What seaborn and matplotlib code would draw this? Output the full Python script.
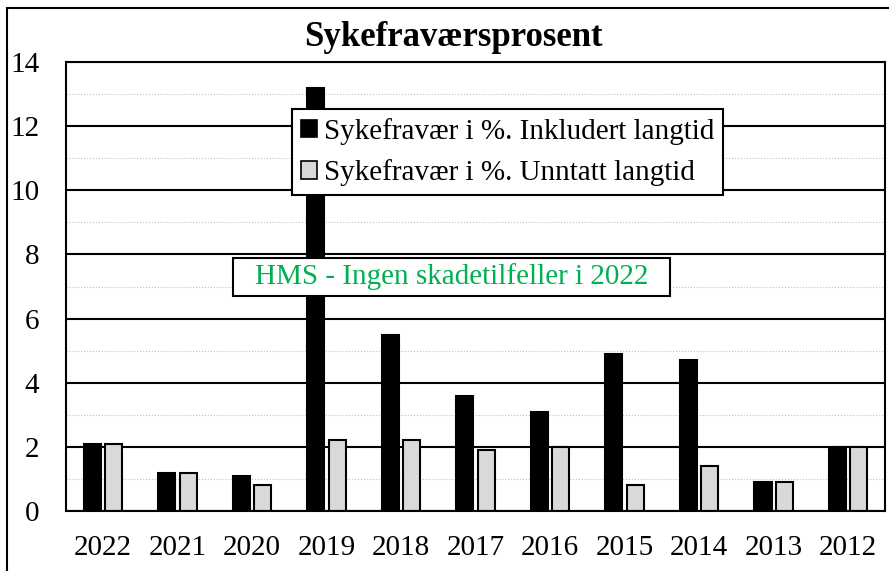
import pandas as pd
import seaborn as sns
import matplotlib.pyplot as plt
from matplotlib.patches import Rectangle
from matplotlib.ticker import MultipleLocator, FixedLocator

# data
years = ['2022', '2021', '2020', '2019', '2018', '2017', '2016', '2015', '2014', '2013', '2012']
incl_long = [2.1, 1.2, 1.1, 13.2, 5.5, 3.6, 3.1, 4.9, 4.7, 0.9, 2.0]
excl_long = [2.1, 1.2, 0.8, 2.2, 2.2, 1.9, 2.0, 0.8, 1.4, 0.9, 2.0]
series = ['Sykefravær i %. Inkludert langtid', 'Sykefravær i %. Unntatt langtid']

df = pd.DataFrame({
    'year': years * 2,
    'value': incl_long + excl_long,
    'series': [series[0]] * len(years) + [series[1]] * len(years),
})

sns.set_style('white')
plt.rcParams['font.family'] = ['Liberation Serif', 'DejaVu Serif']
plt.rcParams['text.color'] = 'black'
plt.rcParams['xtick.color'] = 'black'
plt.rcParams['ytick.color'] = 'black'

fig = plt.figure(figsize=(8.89, 5.71), dpi=100)
ax = fig.add_axes([0.0739, 0.105, 0.9221, 0.7864])

# grid first so bars sit on top
ax.set_axisbelow(True)
sns.barplot(data=df, x='year', y='value', hue='series', order=years, hue_order=series,
            palette=['black', '#D9D9D9'], edgecolor='black', linewidth=1.5,
            width=0.575, gap=0.2, ax=ax)

ax.set_xlim(-0.5, len(years) - 0.5)
ax.set_ylim(0, 14)
ax.set_xlabel('')
ax.set_ylabel('')

ax.yaxis.set_major_locator(MultipleLocator(2))
ax.yaxis.set_minor_locator(MultipleLocator(1))
ax.grid(which='major', axis='y', color='black', linewidth=1.5)
ax.grid(which='minor', axis='y', color='#BFBFBF', linewidth=0.8, linestyle=':')
ax.grid(which='major', axis='x', visible=False)

ax.xaxis.set_minor_locator(FixedLocator([i - 0.5 for i in range(len(years) + 1)]))
ax.tick_params(axis='x', which='major', length=0, pad=17, labelsize=21)
ax.tick_params(axis='x', which='minor', direction='inout', length=13, width=1.5, color='black')
ax.tick_params(axis='y', which='both', length=0, pad=19, labelsize=21)

for s in ax.spines.values():
    s.set_visible(True)
    s.set_color('black')
    s.set_linewidth(1.5)

# legend
ax.get_legend().remove()
handles = [Rectangle((0, 0), 1, 1, facecolor=c, edgecolor='black', linewidth=1.2)
           for c in ['black', '#D9D9D9']]
leg = fig.legend(handles, series, loc='upper left', bbox_to_anchor=(292 / 889, 1 - 109 / 571),
                 fontsize=21, frameon=True, fancybox=False, framealpha=1,
                 edgecolor='black', handlelength=0.55, handleheight=0.55,
                 handletextpad=0.25, labelspacing=0.5, borderpad=0.3, borderaxespad=0)
leg.get_frame().set_linewidth(1.5)

# HMS note with its own box
fig.patches.append(Rectangle((233 / 889, 1 - 296 / 571), 437 / 889, 38 / 571,
                             transform=fig.transFigure, facecolor='white',
                             edgecolor='black', linewidth=1.5, zorder=5))
fig.text(452 / 889, 1 - 277 / 571, 'HMS - Ingen skadetilfeller i 2022', color='#00B050',
         fontsize=21, ha='center', va='center', zorder=6)

fig.text(453 / 889, 1 - 38 / 571, 'Sykefraværsprosent', fontsize=25, fontweight='bold',
         ha='center', va='center')

# outer frame (cut by the right/bottom edge)
fig.patches.append(Rectangle((7 / 889, -0.1), 1.2, 1.1 - 8 / 571, transform=fig.transFigure,
                             fill=False, edgecolor='black', linewidth=1.5, clip_on=False))

fig.savefig('out.png', dpi=100)
